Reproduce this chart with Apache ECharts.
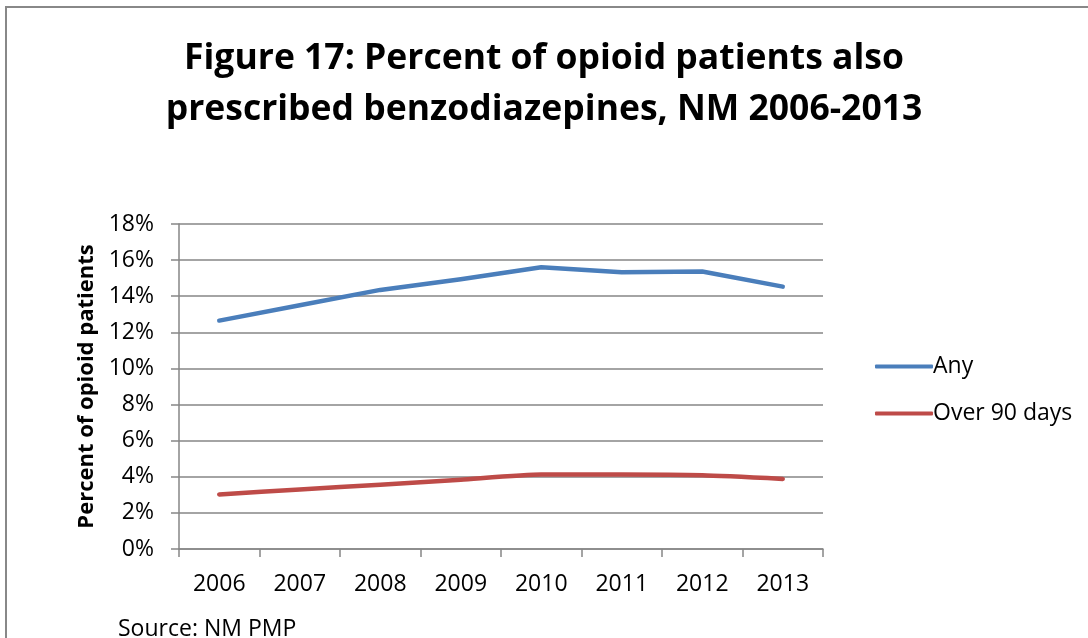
<!DOCTYPE html>
<html>
<head>
<meta charset="utf-8">
<script src="https://cdn.jsdelivr.net/npm/echarts@6/dist/echarts.min.js"></script>
<style>html,body{margin:0;padding:0;background:#fff}#c{width:1088px;height:638px}</style>
</head>
<body>
<div id="c"></div>
<script>
const categories = ['2006','2007','2008','2009','2010','2011','2012','2013'];
const anyValues = [12.65, 13.50, 14.35, 14.94, 15.61, 15.33, 15.37, 14.53];
const over90Values = [3.02, 3.30, 3.56, 3.84, 4.12, 4.12, 4.08, 3.88];
const seriesNames = ['Any', 'Over 90 days'];
const titleLines = ['Figure 17: Percent of opioid patients also', 'prescribed benzodiazepines, NM 2006-2013'];
const yAxisName = 'Percent of opioid patients';
const sourceText = 'Source: NM PMP';

const FONT = '"Open Sans", "Noto Sans", sans-serif';
const chart = echarts.init(document.getElementById('c'));
chart.setOption({
  animation: false,
  backgroundColor: '#fff',
  title: [
    { text: titleLines[0], left: 'center', top: 36, textStyle: { fontFamily: FONT, fontSize: 35.5, fontWeight: 'bold', color: '#000' } },
    { text: titleLines[1], left: 'center', top: 87, textStyle: { fontFamily: FONT, fontSize: 35.5, fontWeight: 'bold', color: '#000' } },
    { text: sourceText, left: 113, top: 613, textStyle: { fontFamily: FONT, fontSize: 23, fontWeight: 'normal', color: '#000' } }
  ],
  graphic: [
    { type: 'polyline', shape: { points: [[6, 700], [6, 7], [1100, 7]] }, style: { stroke: '#888', lineWidth: 2, fill: null } }
  ],
  legend: {
    orient: 'vertical', left: 870, top: 350, itemGap: 24, itemWidth: 58, itemHeight: 4,
    icon: 'roundRect',
    textStyle: { fontFamily: FONT, fontSize: 23, color: '#000', padding: [0, 0, 0, -5] },
    data: seriesNames
  },
  grid: { left: 179, right: 265, top: 224, bottom: 89, containLabel: false },
  xAxis: {
    type: 'category', data: categories, boundaryGap: true,
    axisLine: { lineStyle: { color: '#868686', width: 1.5 } },
    axisTick: { show: true, inside: false, length: 8, alignWithLabel: false, lineStyle: { color: '#868686', width: 1.5 } },
    axisLabel: { fontFamily: FONT, fontSize: 23, color: '#000', margin: 24 }
  },
  yAxis: {
    type: 'value', min: 0, max: 18, interval: 2,
    name: yAxisName, nameLocation: 'middle', nameGap: 80, nameRotate: 90,
    nameTextStyle: { fontFamily: FONT, fontSize: 22, fontWeight: 'bold', color: '#000' },
    axisLine: { show: true, lineStyle: { color: '#868686', width: 1.5 } },
    axisTick: { show: true, inside: false, length: 8, lineStyle: { color: '#868686', width: 1.5 } },
    axisLabel: { fontFamily: FONT, fontSize: 23, color: '#000', margin: 25, formatter: v => v + '%' },
    splitLine: { show: true, lineStyle: { color: '#868686', width: 1.5 } }
  },
  series: [
    { name: seriesNames[0], type: 'line', data: anyValues, showSymbol: false, symbol: 'none',
      lineStyle: { color: '#4A7EBB', width: 4.5, cap: 'round', join: 'round' }, itemStyle: { color: '#4A7EBB' } },
    { name: seriesNames[1], type: 'line', data: over90Values, showSymbol: false, symbol: 'none', smooth: 0.2,
      lineStyle: { color: '#BE4B48', width: 4.5, cap: 'round', join: 'round' }, itemStyle: { color: '#BE4B48' } }
  ]
});
</script>
</body>
</html>
